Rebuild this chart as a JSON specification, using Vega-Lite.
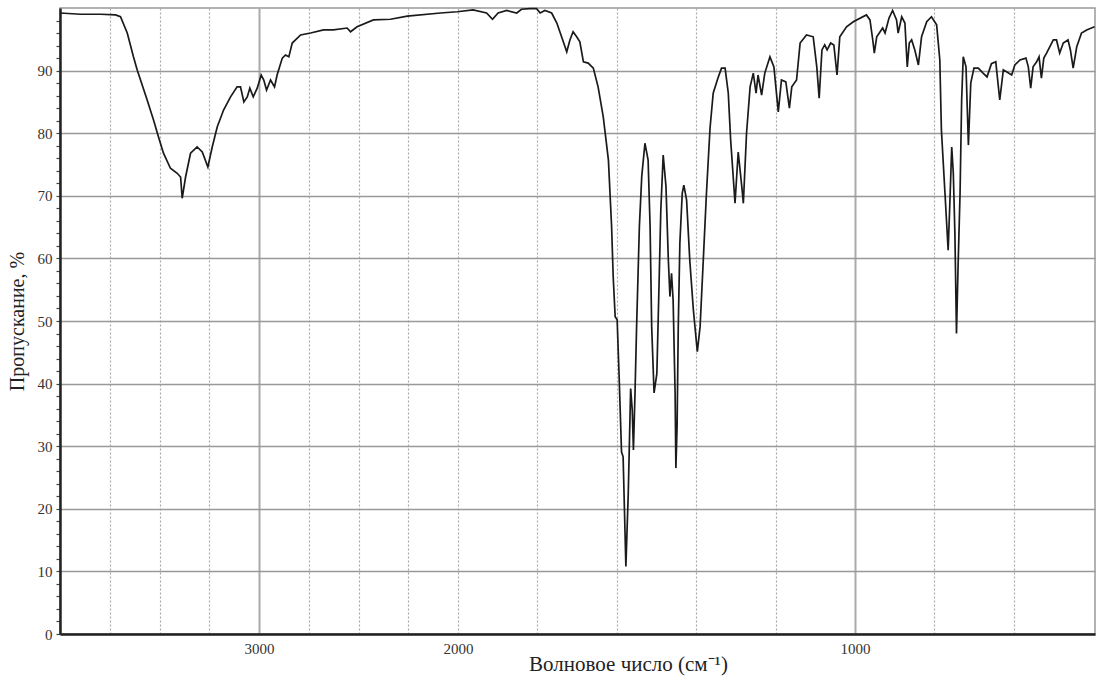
{
  "$schema": "https://vega.github.io/schema/vega-lite/v6.json",
  "autosize": {"type": "none"},
  "width": 1035,
  "height": 626,
  "padding": {"left": 60, "top": 8, "right": 7, "bottom": 44},
  "background": "white",
  "config": {
    "font": "Liberation Serif",
    "view": {"stroke": "#999", "strokeWidth": 1.5}
  },
  "data": {"values": [
    {"wn":4000,"t":99.2},{"wn":3897,"t":99.0},{"wn":3796,"t":99.0},{"wn":3721,"t":98.9},{"wn":3696,"t":98.6},
    {"wn":3662,"t":96.0},{"wn":3631,"t":92.2},{"wn":3612,"t":90.1},{"wn":3562,"t":85.3},{"wn":3530,"t":82.1},
    {"wn":3505,"t":79.4},{"wn":3480,"t":76.8},{"wn":3445,"t":74.4},{"wn":3411,"t":73.6},{"wn":3394,"t":73.0},
    {"wn":3386,"t":69.6},{"wn":3369,"t":73.0},{"wn":3344,"t":76.8},{"wn":3311,"t":77.8},{"wn":3285,"t":77.0},
    {"wn":3257,"t":74.6},{"wn":3235,"t":77.8},{"wn":3210,"t":81.0},{"wn":3178,"t":83.7},{"wn":3143,"t":85.8},
    {"wn":3110,"t":87.4},{"wn":3093,"t":87.4},{"wn":3076,"t":85.0},{"wn":3059,"t":85.8},{"wn":3046,"t":87.2},
    {"wn":3029,"t":85.8},{"wn":3009,"t":87.2},{"wn":2989,"t":89.3},{"wn":2976,"t":88.5},{"wn":2962,"t":86.9},
    {"wn":2942,"t":88.5},{"wn":2922,"t":87.4},{"wn":2909,"t":89.3},{"wn":2883,"t":92.0},{"wn":2867,"t":92.5},
    {"wn":2850,"t":92.2},{"wn":2833,"t":94.4},{"wn":2791,"t":95.7},{"wn":2741,"t":96.0},{"wn":2676,"t":96.5},
    {"wn":2626,"t":96.5},{"wn":2557,"t":96.8},{"wn":2540,"t":96.2},{"wn":2507,"t":97.0},{"wn":2425,"t":98.1},
    {"wn":2339,"t":98.2},{"wn":2255,"t":98.7},{"wn":2088,"t":99.2},{"wn":2004,"t":99.4},{"wn":1962,"t":99.7},
    {"wn":1928,"t":99.2},{"wn":1913,"t":98.2},{"wn":1899,"t":99.2},{"wn":1877,"t":99.6},{"wn":1852,"t":99.2},
    {"wn":1840,"t":99.8},{"wn":1819,"t":99.9},{"wn":1802,"t":99.9},{"wn":1793,"t":99.2},{"wn":1781,"t":99.6},
    {"wn":1764,"t":99.2},{"wn":1751,"t":97.6},{"wn":1739,"t":95.4},{"wn":1726,"t":93.0},{"wn":1718,"t":94.9},
    {"wn":1710,"t":96.2},{"wn":1701,"t":95.4},{"wn":1693,"t":94.6},{"wn":1684,"t":91.4},{"wn":1672,"t":91.2},
    {"wn":1659,"t":90.4},{"wn":1647,"t":87.4},{"wn":1634,"t":82.6},{"wn":1630,"t":80.5},{"wn":1621,"t":75.7},
    {"wn":1613,"t":65.1},{"wn":1609,"t":57.1},{"wn":1604,"t":50.7},{"wn":1599,"t":50.2},{"wn":1594,"t":41.1},
    {"wn":1588,"t":29.1},{"wn":1584,"t":28.3},{"wn":1577,"t":10.8},{"wn":1571,"t":22.5},{"wn":1565,"t":39.2},
    {"wn":1561,"t":35.8},{"wn":1558,"t":29.4},{"wn":1554,"t":38.5},{"wn":1550,"t":49.1},{"wn":1543,"t":65.1},
    {"wn":1537,"t":73.1},{"wn":1529,"t":78.4},{"wn":1521,"t":75.7},{"wn":1516,"t":65.1},{"wn":1512,"t":49.1},
    {"wn":1506,"t":38.5},{"wn":1499,"t":41.6},{"wn":1494,"t":54.4},{"wn":1489,"t":67.7},{"wn":1483,"t":76.5},
    {"wn":1476,"t":71.5},{"wn":1470,"t":59.7},{"wn":1466,"t":53.9},{"wn":1462,"t":57.6},{"wn":1458,"t":53.4},
    {"wn":1453,"t":38.5},{"wn":1451,"t":26.5},{"wn":1448,"t":33.1},{"wn":1445,"t":49.1},{"wn":1441,"t":62.4},
    {"wn":1435,"t":70.4},{"wn":1431,"t":71.7},{"wn":1424,"t":69.3},{"wn":1416,"t":59.7},{"wn":1407,"t":51.8},
    {"wn":1397,"t":45.1},{"wn":1390,"t":49.1},{"wn":1382,"t":59.7},{"wn":1374,"t":70.4},{"wn":1365,"t":80.8},
    {"wn":1357,"t":86.4},{"wn":1344,"t":89.0},{"wn":1336,"t":90.4},{"wn":1327,"t":90.4},{"wn":1319,"t":86.4},
    {"wn":1313,"t":78.9},{"wn":1306,"t":72.5},{"wn":1302,"t":68.8},{"wn":1294,"t":77.0},{"wn":1285,"t":71.5},
    {"wn":1281,"t":68.8},{"wn":1273,"t":80.0},{"wn":1264,"t":87.4},{"wn":1256,"t":89.6},{"wn":1249,"t":86.4},
    {"wn":1244,"t":89.3},{"wn":1235,"t":86.1},{"wn":1227,"t":89.6},{"wn":1214,"t":92.2},{"wn":1204,"t":90.6},
    {"wn":1193,"t":83.4},{"wn":1185,"t":88.5},{"wn":1174,"t":88.2},{"wn":1165,"t":84.0},{"wn":1159,"t":87.4},
    {"wn":1147,"t":88.5},{"wn":1138,"t":94.4},{"wn":1122,"t":95.7},{"wn":1105,"t":95.4},{"wn":1096,"t":90.6},
    {"wn":1090,"t":85.6},{"wn":1083,"t":93.3},{"wn":1076,"t":94.1},{"wn":1070,"t":93.3},{"wn":1061,"t":94.4},
    {"wn":1053,"t":94.1},{"wn":1045,"t":89.3},{"wn":1038,"t":95.4},{"wn":1021,"t":97.0},{"wn":1004,"t":97.8},
    {"wn":971,"t":98.9},{"wn":962,"t":98.1},{"wn":955,"t":94.9},{"wn":951,"t":92.8},{"wn":945,"t":95.4},
    {"wn":930,"t":96.8},{"wn":924,"t":96.0},{"wn":914,"t":98.4},{"wn":905,"t":99.6},{"wn":895,"t":98.1},
    {"wn":891,"t":96.0},{"wn":882,"t":98.6},{"wn":874,"t":97.6},{"wn":868,"t":90.6},{"wn":863,"t":94.4},
    {"wn":857,"t":94.9},{"wn":849,"t":93.3},{"wn":840,"t":90.9},{"wn":832,"t":95.4},{"wn":819,"t":97.8},
    {"wn":807,"t":98.6},{"wn":794,"t":97.3},{"wn":786,"t":91.7},{"wn":782,"t":80.5},{"wn":773,"t":70.4},
    {"wn":765,"t":61.3},{"wn":761,"t":68.3},{"wn":756,"t":77.8},{"wn":752,"t":73.6},{"wn":748,"t":64.0},
    {"wn":744,"t":48.0},{"wn":740,"t":58.7},{"wn":735,"t":70.4},{"wn":731,"t":85.3},{"wn":727,"t":92.2},
    {"wn":720,"t":90.6},{"wn":714,"t":78.1},{"wn":708,"t":88.0},{"wn":700,"t":90.4},{"wn":689,"t":90.4},
    {"wn":677,"t":89.6},{"wn":667,"t":89.0},{"wn":656,"t":91.1},{"wn":645,"t":91.4},{"wn":635,"t":85.3},
    {"wn":626,"t":90.1},{"wn":618,"t":89.8},{"wn":605,"t":89.3},{"wn":597,"t":90.9},{"wn":584,"t":91.7},
    {"wn":569,"t":92.0},{"wn":563,"t":90.6},{"wn":557,"t":87.2},{"wn":551,"t":90.6},{"wn":542,"t":91.4},
    {"wn":536,"t":92.2},{"wn":530,"t":88.8},{"wn":524,"t":92.0},{"wn":517,"t":92.8},{"wn":509,"t":93.8},
    {"wn":500,"t":94.9},{"wn":492,"t":94.9},{"wn":484,"t":92.8},{"wn":475,"t":94.4},{"wn":463,"t":94.9},
    {"wn":457,"t":93.3},{"wn":450,"t":90.4},{"wn":441,"t":93.8},{"wn":429,"t":96.0},{"wn":416,"t":96.5},
    {"wn":404,"t":96.8},{"wn":396,"t":97.0}
  ]},
  "mark": {"type": "line", "color": "#1a1a1a", "strokeWidth": 1.7, "interpolate": "linear"},
  "encoding": {
    "x": {
      "field": "wn", "type": "quantitative",
      "scale": {"domain": [4000, 2000, 395], "range": [0, 398, 1035], "nice": false, "zero": false},
      "axis": {
        "values": [3750, 3500, 3250, 3000, 2750, 2500, 2250, 2000, 1800, 1600, 1400, 1200, 1000, 800, 600],
        "labelExpr": "datum.value === 3000 || datum.value === 2000 || datum.value === 1000 ? datum.value : ''",
        "labelFontSize": 15,
        "labelColor": "#333",
        "labelPadding": 7,
        "labelFlush": false,
        "labelOverlap": false,
        "ticks": false,
        "domainColor": "#222",
        "domainWidth": 2.5,
        "grid": true,
        "gridColor": "#aaa",
        "gridWidth": {"condition": {"test": "datum.value === 3000 || datum.value === 1000", "value": 2}, "value": 1.2},
        "gridDash": {"condition": {"test": "datum.value === 3000 || datum.value === 1000", "value": []}, "value": [2, 2]},
        "title": "Волновое число (см⁻¹)",
        "titleFont": "Liberation Serif",
        "titleFontSize": 21,
        "titleFontWeight": "normal",
        "titleColor": "#222",
        "titleX": 568,
        "titleY": 30,
        "titleBaseline": "middle"
      }
    },
    "y": {
      "field": "t", "type": "quantitative",
      "scale": {"domain": [0, 100], "nice": false, "zero": false},
      "axis": {
        "values": [0,2,4,6,8,10,12,14,16,18,20,22,24,26,28,30,32,34,36,38,40,42,44,46,48,50,52,54,56,58,60,62,64,66,68,70,72,74,76,78,80,82,84,86,88,90,92,94,96,98],
        "labelExpr": "datum.value % 10 === 0 ? datum.value : ''",
        "labelFontSize": 15,
        "labelColor": "#333",
        "labelPadding": 4,
        "labelFlush": false,
        "labelOverlap": false,
        "ticks": true,
        "tickSize": 4,
        "tickColor": "#444",
        "tickWidth": 1.2,
        "domainColor": "#222",
        "domainWidth": 2.5,
        "grid": true,
        "gridColor": "#999",
        "gridWidth": 1.4,
        "gridOpacity": {"condition": {"test": "datum.value % 10 === 0", "value": 1}, "value": 0},
        "title": "Пропускание, %",
        "titleFont": "Liberation Serif",
        "titleFontSize": 20,
        "titleFontWeight": "normal",
        "titleColor": "#222",
        "titlePadding": 10
      }
    }
  }
}
